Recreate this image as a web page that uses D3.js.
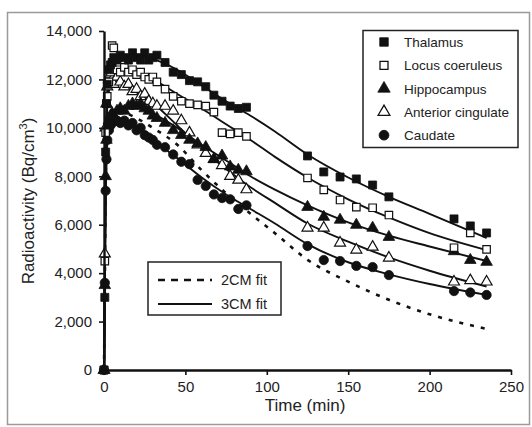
<!DOCTYPE html>
<html>
<head>
<meta charset="utf-8">
<script src="https://cdn.jsdelivr.net/npm/d3@7"></script>
<style>
body { margin: 0; background: #fff; }
svg text { font-family: "Liberation Sans", Arial, sans-serif; fill: #222; }
</style>
</head>
<body>
<script>
// frame times (min)
var times = [0, 0.5, 1, 1.5, 2, 3, 4, 5, 6, 8, 10, 12.5, 15, 17.5, 20, 22.5, 25, 27.5, 30, 32.5,
	37.5, 42.5, 47.5, 52.5, 57.5, 62.5, 67.5, 72.5, 77.5, 82.5, 87.5,
	125, 135, 145, 155, 165, 175, 215, 225, 235]

// measured radioactivity (Bq/cm3)
var thalamus = [0, 3000, 9000, 11000, 11800, 12400, 12600, 12700, 12900, 12800, 13000, 12900, 12800, 13100, 12900, 12800, 13100, 12800, 12900, 13000,
	12700, 12300, 12200, 11950, 11900, 11700, 11350, 11100, 10900, 10800, 10850,
	8840, 8180, 7970, 7890, 7640, 7150, 6240, 5950, 5660]
var locus = [0, 4500, 9800, 11000, 11300, 11900, 12300, 13400, 13300, 12400, 12300, 12500, 12300, 12400, 12200, 12300, 12100, 12000, 12100, 11900,
	11600, 11300, 11100, 11000, 10950, 10900, 10650, 9800, 9750, 9800, 9650,
	7930, 7440, 7020, 6730, 6700, 6400, 5050, 5660, 4980]
var hippocampus = [0, 3500, 8000, 9500, 10000, 10300, 10500, 10600, 10500, 10700, 10800, 10700, 10900, 11000, 10900, 11000, 10800, 10700, 10500, 10400,
	10200, 9900, 9700, 9500, 9350, 9200, 8700, 8850, 8400, 8260, 8200,
	6730, 6320, 6200, 5990, 5870, 5490, 4900, 4540, 4460]
var cingulate = [0, 4800, 10000, 11000, 11700, 12000, 12200, 12000, 11800, 12100, 11900, 11700, 11800, 11500, 11600, 11300, 11400, 11100, 11000, 10900,
	10900, 10700, 10300, 9800, 9300, 8950, 8700, 8450, 8000, 7850, 7450,
	5870, 5870, 5250, 4960, 5080, 4630, 3640, 3700, 3640]
var caudate = [0, 3600, 7400, 8700, 9500, 9900, 10100, 10200, 10400, 10300, 10200, 10300, 10100, 10200, 9900, 10000, 9700, 9600, 9500, 9300,
	9200, 8900, 8600, 8500, 7850, 7600, 7250, 7100, 7050, 6650, 6800,
	5120, 4540, 4500, 4300, 4250, 3920, 3260, 3200, 3100]

// model fits
var fit_times = [0, 0.5, 1, 2, 3, 5, 10, 20, 30, 45, 60, 75, 90, 105, 125, 150, 175, 200, 235]
var fit_thalamus = [0, 4000, 8500, 11500, 12300, 12700, 12950, 13000, 12850, 12400, 11750, 11100, 10500, 9850, 8900, 7950, 7150, 6450, 5450]
var fit_locus = [0, 3500, 8000, 10800, 11500, 12100, 12400, 12300, 12000, 11400, 10800, 10150, 9500, 8800, 7950, 7050, 6300, 5650, 4950]
var fit_hippocampus = [0, 3000, 7000, 9700, 10300, 10600, 10850, 10900, 10600, 10000, 9300, 8650, 8000, 7450, 6800, 6100, 5550, 5100, 4500]
var fit_cingulate = [0, 4000, 8500, 11300, 11800, 12000, 11950, 11600, 11050, 10100, 9150, 8300, 7550, 6900, 6050, 5300, 4650, 4100, 3450]
var fit_caudate = [0, 3000, 6800, 9300, 9800, 10100, 10250, 10000, 9500, 8750, 7950, 7250, 6650, 6050, 5200, 4450, 3950, 3550, 3100]
var fit_2cm = [0, 3500, 7500, 9800, 10300, 10600, 10650, 10400, 10000, 9300, 8250, 7300, 6450, 5650, 4550, 3650, 2900, 2300, 1700]

var region_names = ['Thalamus', 'Locus coeruleus', 'Hippocampus', 'Anterior cingulate', 'Caudate']
var fit_names = ['2CM fit', '3CM fit']
var y_ticks = [0, 2000, 4000, 6000, 8000, 10000, 12000, 14000]
var x_ticks = [0, 50, 100, 150, 200, 250]

var regions = [
	{name: region_names[0], vals: thalamus, fit: fit_thalamus, sym: d3.symbolSquare, size: 64, open: false},
	{name: region_names[1], vals: locus, fit: fit_locus, sym: d3.symbolSquare, size: 56, open: true},
	{name: region_names[2], vals: hippocampus, fit: fit_hippocampus, sym: d3.symbolTriangle, size: 58, open: false},
	{name: region_names[3], vals: cingulate, fit: fit_cingulate, sym: d3.symbolTriangle, size: 52, open: true},
	{name: region_names[4], vals: caudate, fit: fit_caudate, sym: d3.symbolCircle, size: 68, open: false}
]

var svg = d3.select('body').append('svg').attr('width', 532).attr('height', 427)

// outer frame
svg.append('rect').attr('x', 7.5).attr('y', 12.5).attr('width', 522).attr('height', 412)
	.attr('fill', 'none').attr('stroke', '#9a9a9a').attr('stroke-width', 1.5)

var x = d3.scaleLinear().domain([0, 250]).range([104, 511])
var y = d3.scaleLinear().domain([0, 14000]).range([370, 31])

var line = d3.line().x(d => x(d[0])).y(d => y(d[1])).curve(d3.curveMonotoneX)

var plot = svg.append('g')

// solid 3CM fits
regions.forEach(r => {
	plot.append('path')
		.datum(fit_times.map((t, i) => [t, r.fit[i]]))
		.attr('d', line)
		.attr('fill', 'none').attr('stroke', '#111').attr('stroke-width', 1.9)
})

// dashed 2CM fit
plot.append('path')
	.datum(fit_times.map((t, i) => [t, fit_2cm[i]]))
	.attr('d', line)
	.attr('fill', 'none').attr('stroke', '#111').attr('stroke-width', 2.6)
	.attr('stroke-dasharray', '4,7')

// data markers
regions.slice().reverse().forEach(r => {
	plot.selectAll(null).data(times.map((t, i) => [t, r.vals[i]]))
		.enter().append('path')
		.attr('transform', d => 'translate(' + x(d[0]) + ',' + y(d[1]) + ')')
		.attr('d', d3.symbol().type(r.sym).size(r.size))
		.attr('fill', r.open ? '#fff' : '#111')
		.attr('stroke', '#111').attr('stroke-width', r.open ? 1.2 : 0.8)
})

// axes
var yaxis = svg.append('g').attr('transform', 'translate(104,0)')
	.call(d3.axisLeft(y).tickValues(y_ticks).tickFormat(d3.format(',')).tickSize(5).tickSizeOuter(0).tickPadding(7))
var xaxis = svg.append('g').attr('transform', 'translate(0,370)')
	.call(d3.axisBottom(x).tickValues(x_ticks).tickSize(5).tickSizeOuter(0).tickPadding(6))

svg.selectAll('.domain').attr('stroke', '#111').attr('stroke-width', 2.4)
svg.selectAll('.tick line').attr('stroke', '#111').attr('stroke-width', 1.6)
svg.selectAll('.tick text').attr('font-size', 15).attr('font-family', '"Liberation Sans", Arial, sans-serif').attr('fill', '#222')

// axis titles
svg.append('text').attr('x', 305).attr('y', 411).attr('text-anchor', 'middle')
	.attr('font-size', 17).text('Time (min)')

var ylab = svg.append('text').attr('transform', 'translate(34,201) rotate(-90)')
	.attr('text-anchor', 'middle').attr('font-size', 17)
ylab.append('tspan').text('Radioactivity (Bq/cm')
ylab.append('tspan').attr('font-size', 11).attr('dy', -7).text('3')
ylab.append('tspan').attr('dy', 7).text(')')

// region legend
var leg = svg.append('g')
leg.append('rect').attr('x', 363).attr('y', 30.5).attr('width', 155).attr('height', 117)
	.attr('fill', '#fff').attr('stroke', '#222').attr('stroke-width', 1.5)
regions.forEach((r, i) => {
	var ly = 42 + i * 23.3
	leg.append('path').attr('transform', 'translate(384,' + ly + ')')
		.attr('d', d3.symbol().type(r.sym).size(r.size + 8))
		.attr('fill', r.open ? '#fff' : '#111').attr('stroke', '#111').attr('stroke-width', r.open ? 1.3 : 0.8)
	leg.append('text').attr('x', 404).attr('y', ly + 5).attr('font-size', 13.5).text(r.name)
})

// fit legend
var leg2 = svg.append('g')
leg2.append('rect').attr('x', 148).attr('y', 262).attr('width', 133).attr('height', 53)
	.attr('fill', '#fff').attr('stroke', '#222').attr('stroke-width', 1.5)
leg2.append('line').attr('x1', 158).attr('x2', 212).attr('y1', 280).attr('y2', 280)
	.attr('stroke', '#111').attr('stroke-width', 2.6).attr('stroke-dasharray', '7,6')
leg2.append('line').attr('x1', 158).attr('x2', 212).attr('y1', 304).attr('y2', 304)
	.attr('stroke', '#111').attr('stroke-width', 2.2)
fit_names.forEach((n, i) => {
	leg2.append('text').attr('x', 221).attr('y', 285 + i * 24).attr('font-size', 14.5).text(n)
})
</script>
</body>
</html>
